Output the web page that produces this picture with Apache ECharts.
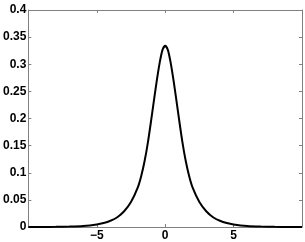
<!DOCTYPE html>
<html>
<head>
<meta charset="utf-8">
<script src="https://cdn.jsdelivr.net/npm/echarts@6/dist/echarts.min.js"></script>
<style>
html,body{margin:0;padding:0;background:#fff;}
#c{width:305px;height:242px;}
</style>
</head>
<body>
<div id="c"></div>
<script>
var xValues = [-10,-9,-8,-7,-6,-5,-4.5,-4,-3.5,-3,-2.5,-2,-1.75,-1.5,-1.25,-1,-0.8,-0.6,-0.4,-0.2,0,
               0.2,0.4,0.6,0.8,1,1.25,1.5,1.75,2,2.5,3,3.5,4,4.5,5,6,7,8,9,10];
var yValues = [0.00005,0.00012,0.0003,0.0008,0.0019,0.0047,0.0073,0.0115,0.018,0.029,0.046,0.073,0.094,0.122,0.158,0.201,0.237,0.272,0.303,0.326,0.334,
               0.326,0.303,0.272,0.237,0.201,0.158,0.122,0.094,0.073,0.046,0.029,0.018,0.0115,0.0073,0.0047,0.0019,0.0008,0.0003,0.00012,0.00005];
var xTicks = [-5, 0, 5];
var yTicks = [0,0.05,0.1,0.15,0.2,0.25,0.3,0.35,0.4];

var pts = xValues.map(function(x,i){return [x, yValues[i]];});
var axisColor = '#808080';
var labelStyle = {color:'#000', fontFamily:'Liberation Sans, Arial, sans-serif', fontWeight:'bold', fontSize:12};
function frameAxis(pos){
  return {
    axisLine:{show:true, onZero:false, lineStyle:{color:axisColor, width:1}},
    axisTick:{show:true, inside:true, length:3, lineStyle:{color:axisColor}},
    splitLine:{show:false}, position:pos
  };
}
var chart = echarts.init(document.getElementById('c'), null, {renderer:'canvas'});
chart.setOption({
  animation:false,
  backgroundColor:'#fff',
  grid:{left:26, right:3, top:10, bottom:14, containLabel:false},
  xAxis:[
    Object.assign(frameAxis('bottom'), {type:'value', min:-10, max:10, interval:5,
      axisLabel:Object.assign({margin:3, showMinLabel:false, showMaxLabel:false,
        formatter:function(v){ return xTicks.indexOf(v)>=0 ? String(v).replace('-','\u2212') : ''; }}, labelStyle)}),
    Object.assign(frameAxis('top'), {type:'value', min:-10, max:10, interval:5, axisLabel:{show:false}})
  ],
  yAxis:[
    Object.assign(frameAxis('left'), {type:'value', min:0, max:0.4, interval:0.05,
      axisLabel:Object.assign({margin:2, formatter:function(v){ var s=String(+v.toFixed(2)); return yTicks.indexOf(+s)>=0 ? s : ''; }}, labelStyle)}),
    Object.assign(frameAxis('right'), {type:'value', min:0, max:0.4, interval:0.05, axisLabel:{show:false}})
  ],
  series:[{
    type:'line', xAxisIndex:0, yAxisIndex:0, data:pts, smooth:0.25,
    showSymbol:false, lineStyle:{color:'#000', width:2}
  }]
});
</script>
</body>
</html>
